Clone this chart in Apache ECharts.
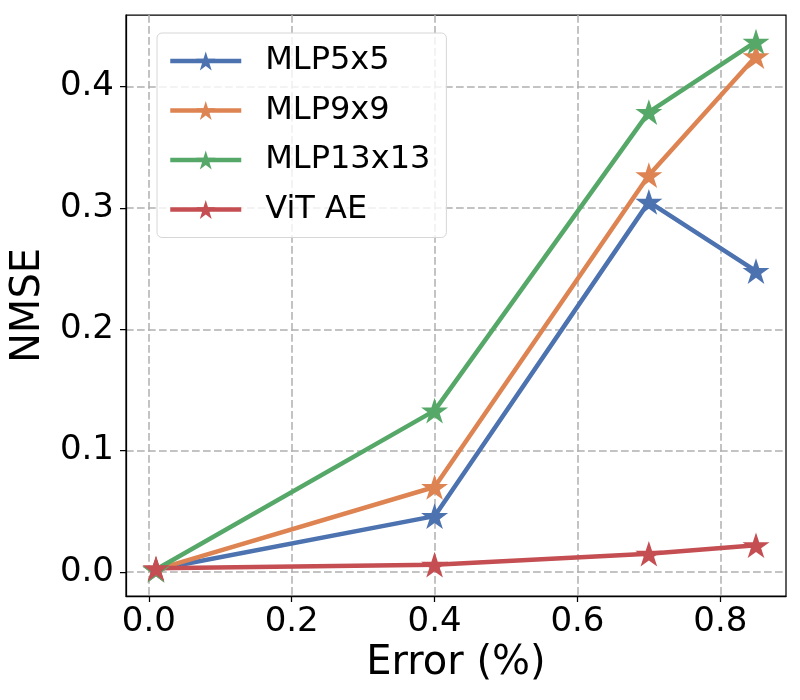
<!DOCTYPE html>
<html>
<head>
<meta charset="utf-8">
<script src="https://cdn.jsdelivr.net/npm/echarts@6/dist/echarts.min.js"></script>
<style>
html,body{margin:0;padding:0;background:#fff;}
#chart{width:800px;height:700px;}
</style>
</head>
<body>
<div id="chart"></div>
<script>
const xValues = [0.01, 0.4, 0.7, 0.85];
const mlp5x5 = [0.002, 0.046, 0.305, 0.248];
const mlp9x9 = [0.002, 0.070, 0.327, 0.425];
const mlp13x13 = [0.002, 0.133, 0.379, 0.437];
const vitAE = [0.003, 0.006, 0.015, 0.022];
const seriesNames = ['MLP5x5', 'MLP9x9', 'MLP13x13', 'ViT AE'];
const xTicks = [0, 0.2, 0.4, 0.6, 0.8];
const yTicks = [0, 0.1, 0.2, 0.3, 0.4];

const colors = ['#4C72B0', '#DD8452', '#55A868', '#C44E52'];
const STAR = 'path://M100 0 L122.45 69.1 L195.11 69.1 L136.33 111.8 L158.78 180.9 L100 138.2 L41.22 180.9 L63.67 111.8 L4.89 69.1 L77.55 69.1 Z';
const FONT = 'DejaVu Sans';

function pairs(ys){ return xValues.map((x,i)=>[x, ys[i]]); }
const allData = [mlp5x5, mlp9x9, mlp13x13, vitAE];

const chart = echarts.init(document.getElementById('chart'));
chart.setOption({
  animation: false,
  backgroundColor: '#fff',
  color: colors,
  grid: {left: 126, top: 15, right: 14, bottom: 104, show: true, borderColor: '#000', borderWidth: 1.25, backgroundColor: 'transparent'},
  legend: {
    left: 157, top: 33,
    orient: 'vertical',
    itemWidth: 71, itemHeight: 24, itemGap: 13.5,
    padding: [10, 16, 10, 11],
    backgroundColor: 'rgba(255,255,255,0.8)',
    borderColor: '#d6d6d6', borderWidth: 1, borderRadius: 5,
    lineStyle: {width: 4.5},
    textStyle: {fontFamily: FONT, fontSize: 32, color: '#000', lineHeight: 36, padding: [0,0,0,19]},
    data: seriesNames
  },
  xAxis: {
    type: 'value', min: -0.032, max: 0.892,
    name: 'Error (%)', nameLocation: 'middle', nameGap: 46,
    nameTextStyle: {fontFamily: FONT, fontSize: 40, color: '#000'},
    axisLine: {show: true, onZero: false, lineStyle: {color: '#000', width: 1.25}},
    axisTick: {show: true, length: 6, lineStyle: {color: '#000', width: 1.25}, customValues: xTicks},
    axisLabel: {fontFamily: FONT, fontSize: 34, color: '#000', margin: 9, customValues: xTicks, formatter: v => v.toFixed(1)},
    splitLine: {show: true, lineStyle: {color: '#b0b0b0', width: 1.5, type: [7.7, 3.3]}}
  },
  yAxis: {
    type: 'value', min: -0.0198, max: 0.459,
    name: 'NMSE', nameLocation: 'middle', nameGap: 76,
    nameTextStyle: {fontFamily: FONT, fontSize: 40, color: '#000'},
    axisLine: {show: true, onZero: false, lineStyle: {color: '#000', width: 1.25}},
    axisTick: {show: true, length: 6, lineStyle: {color: '#000', width: 1.25}, customValues: yTicks},
    axisLabel: {fontFamily: FONT, fontSize: 34, color: '#000', margin: 12, customValues: yTicks, formatter: v => v.toFixed(1)},
    splitLine: {show: true, lineStyle: {color: '#b0b0b0', width: 1.5, type: [7.7, 3.3]}}
  },
  series: seriesNames.map((name, i) => ({
    name: name,
    type: 'line',
    data: pairs(allData[i]),
    symbol: STAR,
    symbolSize: 27,
    symbolKeepAspect: true,
    showAllSymbol: true,
    lineStyle: {width: 4.5, color: colors[i]},
    itemStyle: {color: colors[i], borderWidth: 0},
    emphasis: {disabled: true}
  }))
});
</script>
</body>
</html>
